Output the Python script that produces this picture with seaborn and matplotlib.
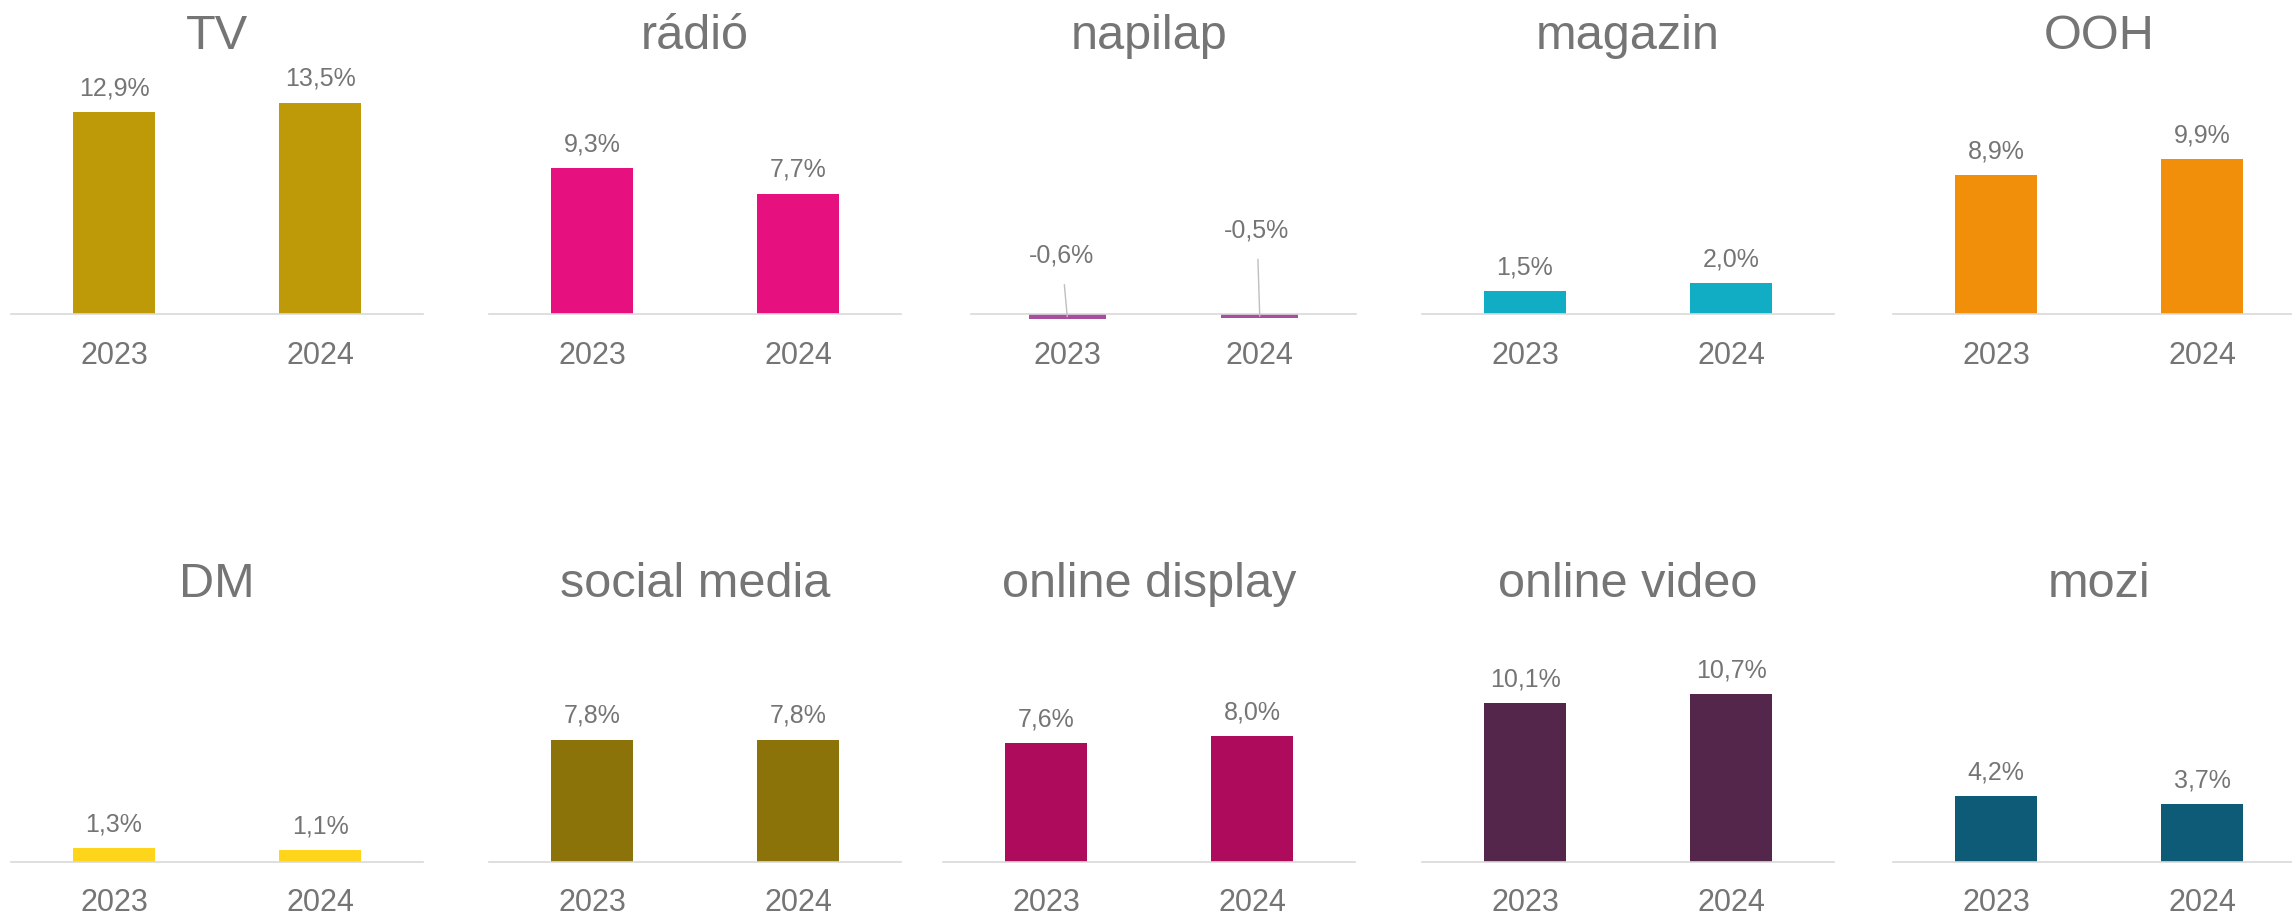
import numpy as np
import pandas as pd
import matplotlib
matplotlib.use("Agg")
import matplotlib.pyplot as plt
import seaborn as sns

# media growth (%), 2023 vs 2024
media = ['TV', 'rádió', 'napilap', 'magazin', 'OOH',
         'DM', 'social media', 'online display', 'online video', 'mozi']
years = ['2023', '2024']
growth_2023 = [12.9, 9.3, -0.6, 1.5, 8.9, 1.3, 7.8, 7.6, 10.1, 4.2]
growth_2024 = [13.5, 7.7, -0.5, 2.0, 9.9, 1.1, 7.8, 8.0, 10.7, 3.7]
bar_colors = ['#BE9A08', '#E6107E', '#A94D9E', '#11ADC4', '#F18F0A',
              '#FFD51C', '#8C7309', '#AE0B5D', '#55264B', '#0D5B76']

df = pd.DataFrame({
    'media': np.repeat(media, 2),
    'year': years * len(media),
    'growth': [v for pair in zip(growth_2023, growth_2024) for v in pair],
})

sns.set_theme(style='white')
plt.rcParams['font.family'] = ['Liberation Sans', 'DejaVu Sans']

GRAY = '#757575'
W, H = 2292, 915
fig = plt.figure(figsize=(W / 100, H / 100), dpi=100)

# layout in pixels (left edge, width, baseline y from top)
lefts = [11, 489, 971, 1422, 1893, 11, 489, 943, 1422, 1893]
widths = [412, 412, 385, 412, 412, 412, 412, 412, 412, 412]
baselines = [314.5] * 5 + [862] * 5
# pixels per percentage point in each small chart
px_per_pct = {'DM': 10.8, 'napilap': 7.2}
ABOVE, BELOW = 250, 40

for i, name in enumerate(media):
    sub = df[df['media'] == name]
    base = baselines[i]
    ax = fig.add_axes([lefts[i] / W, 1 - (base + BELOW) / H,
                       widths[i] / W, (ABOVE + BELOW) / H])
    sns.barplot(data=sub, x='year', y='growth', color=bar_colors[i],
                saturation=1, width=0.4, linewidth=0, ax=ax)
    scale = px_per_pct.get(name, 15.7)
    ax.set_ylim(-BELOW / scale, ABOVE / scale)
    ax.set_xlim(-0.5, 1.5)

    for s in ['top', 'left', 'right']:
        ax.spines[s].set_visible(False)
    ax.spines['bottom'].set_position(('data', 0))
    ax.spines['bottom'].set_color('#D9D9D9')
    ax.spines['bottom'].set_linewidth(1.2)
    ax.set_yticks([])
    ax.set_xlabel('')
    ax.set_ylabel('')
    ax.tick_params(axis='x', length=0, pad=19, labelsize=22, labelcolor=GRAY)

    # title (napilap's chart title sits a bit left of its plot area)
    tx = 0.5 - (14 / widths[i] if name == 'napilap' else 0)
    ax.text(tx, (BELOW + 265) / (ABOVE + BELOW), name, transform=ax.transAxes,
            ha='center', va='baseline', fontsize=35, color=GRAY)

    # value labels
    vals = sub['growth'].tolist()
    for j, v in enumerate(vals):
        label = f"{v:.1f}".replace('.', ',') + '%'
        if v >= 0:
            ax.annotate(label, xy=(j, v), xytext=(0, 12), textcoords='offset points',
                        ha='center', va='baseline', fontsize=18, color=GRAY)
        else:
            offs = [(-4, 39), (-2, 57)][j]
            ax.annotate(label, xy=(j, v / 2), xytext=offs, textcoords='offset points',
                        ha='center', va='baseline', fontsize=18, color=GRAY,
                        arrowprops=dict(arrowstyle='-', color='#BFBFBF', lw=1,
                                        shrinkA=10, shrinkB=0))

fig.savefig('out.png', dpi=100)
